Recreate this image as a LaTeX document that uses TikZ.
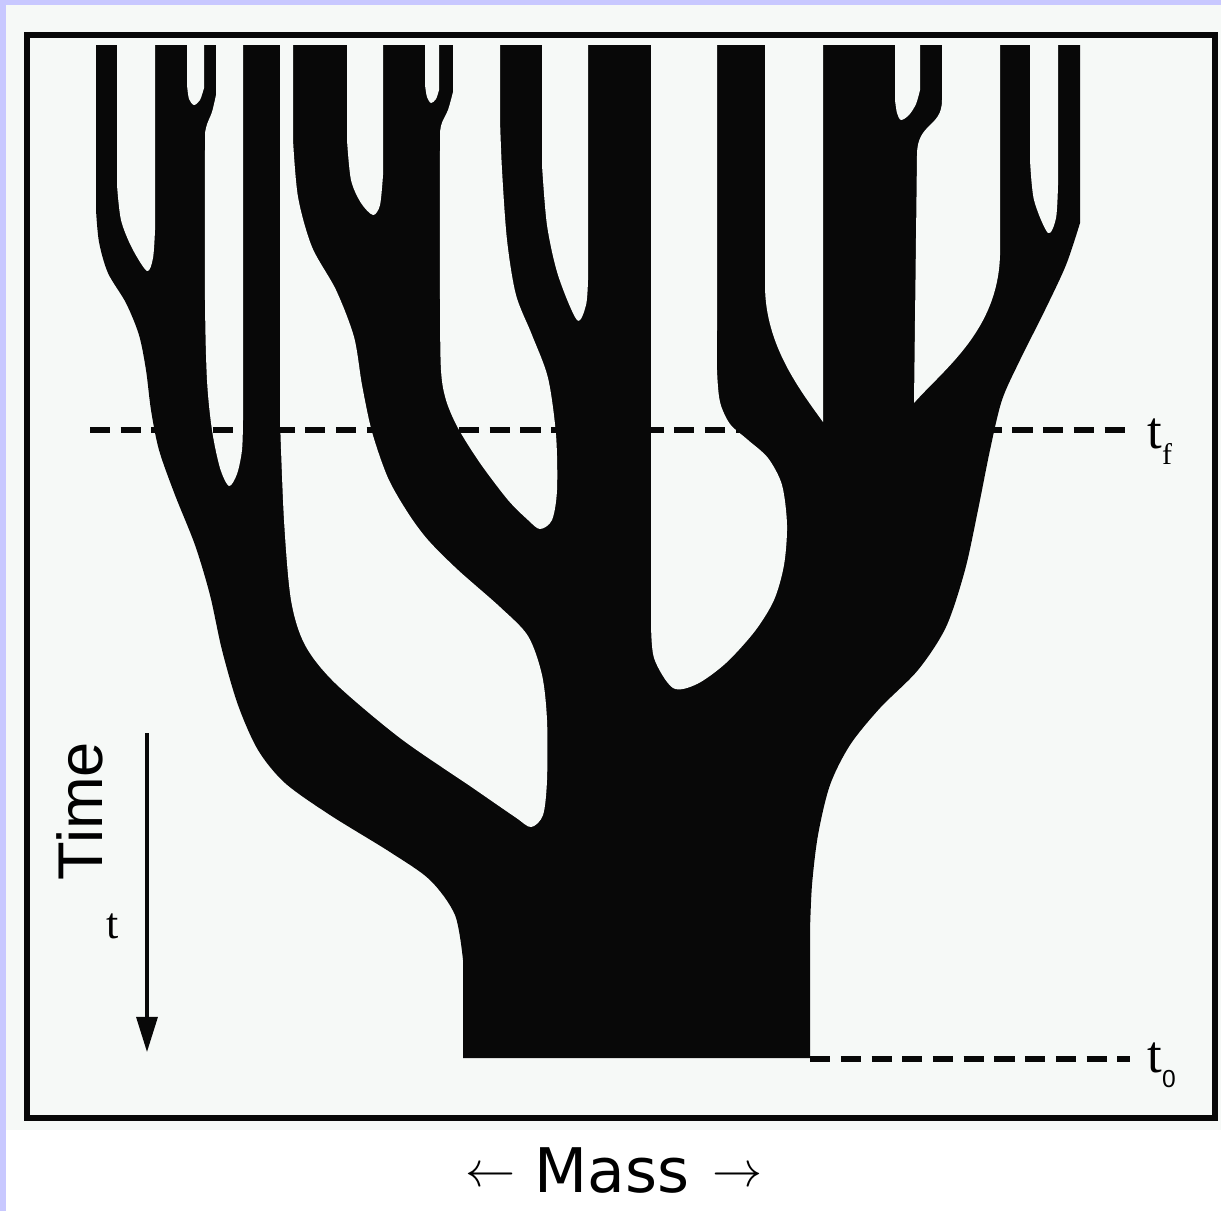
\documentclass[tikz,border=0pt]{standalone}
\usepackage{fontspec}
\setmainfont{Liberation Serif}
\newfontfamily\helv{Liberation Sans}
\newfontfamily\dejav{DejaVu Sans}
\usetikzlibrary{arrows.meta}
\definecolor{scanbg}{RGB}{246,249,247}
\definecolor{lav}{RGB}{200,200,255}
\definecolor{ink}{RGB}{8,8,8}
\tikzset{
  holefill/.style={fill=scanbg},
  inkfill/.style={fill=ink},
  tline/.style={line width=3.1pt, dash pattern=on 11.5pt off 6pt, draw=ink},
}
\newcommand{\massarrow}[1]{\raisebox{3.2pt}{\fontsize{10}{12}\selectfont\scalebox{2.85}{$#1$}}}
\begin{document}
\begin{tikzpicture}[x=0.02cm,y=-0.02cm]
\useasboundingbox (0,0) rectangle (1221,1211);
\fill[white] (0,0) rectangle (1221,1211);
\fill[scanbg] (6,5) rectangle (1221,1130);
\fill[lav] (0,0) rectangle (1221,5);
\fill[lav] (0,0) rectangle (6,1211);
\draw[line width=3.4pt, draw=ink] (27,35) rectangle (1215,1118);

% tree silhouette
\fill[inkfill] (96,45) -- (1080,45) -- plot[smooth, tension=0.5] coordinates {(1080,223) (1066,265) (1045,310) (1020,360) (1002,400) (990,450) (978,510) (965,570) (946,627) (918,670) (880,708) (850,745) (830,785) (818,835) (812,885) (810,930)} -- (810,1058) -- (463,1058) -- plot[smooth, tension=0.5] coordinates {(463,960) (455,915) (430,880) (390,852) (330,815) (285,783) (258,750) (238,705) (222,650) (210,595) (195,545) (175,495) (159,450) (151,410) (146,370) (139,335) (126,303) (108,273) (99,242) (96,210)} -- cycle;

% gaps between branches
\fill[holefill] (117,44) -- plot[smooth, tension=0.5] coordinates {(117,185) (121,220) (132,248) (147,271) (153,258) (155,230)} -- (155,44) -- cycle;
\fill[holefill] (187,44) -- plot[smooth, tension=0.5] coordinates {(187,85) (189,99) (194,105) (200,100) (204,88)} -- (204,44) -- cycle;
\fill[holefill] (216,44) -- plot[smooth, tension=0.5] coordinates {(216,95) (212,112) (206,128) (205,150) (205,300) (207,380) (212,430) (220,468) (229,486) (237,474) (242,450) (243,420)} -- (243,44) -- cycle;
\fill[holefill] (280,44) -- plot[smooth, tension=0.5] coordinates {(280,420) (284,520) (291,600) (305,645) (335,683) (400,738) (470,786) (515,817) (531,827) (543,815) (547,780) (547,720) (542,675) (528,636) (500,607) (458,570) (428,540) (408,513) (388,478) (372,432) (362,385) (354,337) (336,290) (312,247) (298,197) (293,140)} -- (293,44) -- cycle;
\fill[holefill] (347,44) -- plot[smooth, tension=0.5] coordinates {(347,140) (351,180) (361,203) (373,215) (380,205) (383,175)} -- (383,44) -- cycle;
\fill[holefill] (425,44) -- plot[smooth, tension=0.5] coordinates {(425,85) (427,97) (431,103) (436,99) (439,90)} -- (439,44) -- cycle;
\fill[holefill] (453,44) -- plot[smooth, tension=0.5] coordinates {(453,92) (448,110) (441,126) (440,150) (440,300) (441,370) (446,400) (458,428) (480,463) (508,500) (528,520) (540,529) (552,520) (557,490) (556,435) (548,378) (532,335) (516,295) (507,240) (502,170) (500,120)} -- (500,44) -- cycle;
\fill[holefill] (542,44) -- plot[smooth, tension=0.5] coordinates {(542,165) (547,225) (558,275) (577,320) (586,305) (588,280)} -- (588,44) -- cycle;
\fill[holefill] (651,44) -- plot[smooth, tension=0.5] coordinates {(651,620) (654,658) (673,688) (697,684) (726,663) (755,631) (774,600) (784,565) (787,525) (782,485) (768,458) (748,440) (730,424) (720,402) (717,370) (717,330)} -- (717,44) -- cycle;
\fill[holefill] (765,44) -- (765,285) .. controls (765,345) and (800,390) .. (823,422) -- (823,44) -- cycle;
\fill[holefill] (895,44) -- plot[smooth, tension=0.5] coordinates {(895,100) (897,113) (901,120) (909,115) (916,104) (920,90)} -- (920,44) -- cycle;
\fill[holefill] (942,44) -- (942,100) .. controls (942,128) and (917,122) .. (917,155) -- (914,403) .. controls (945,368) and (998,330) .. (1000,255) -- (1000,44) -- cycle;
\fill[holefill] (1030,44) -- plot[smooth, tension=0.5] coordinates {(1030,160) (1034,200) (1048,233) (1056,218) (1058,185)} -- (1058,44) -- cycle;

% time lines
\coordinate (tfL) at (90,430);
\coordinate (tfR) at (1130,430);
\draw[tline] (tfL) -- (tfR);
\coordinate (tzL) at (810,1059);
\coordinate (tzR) at (1130,1059);
\draw[tline] (tzL) -- (tzR);
\node[anchor=base west, inner sep=0] (tf) at (1147,448) {\fontsize{30}{30}\selectfont t\raisebox{-9.6pt}{\fontsize{17}{17}\selectfont f}};
\node[anchor=base west, inner sep=0] (tz) at (1147,1072) {\fontsize{30}{30}\selectfont t\raisebox{-9pt}{\helv\fontsize{14}{14}\selectfont 0}};

% time arrow
\coordinate (arTop) at (147,733);
\coordinate (arTip) at (147,1052);
\draw[line width=1.8pt, draw=ink, -{Triangle[length=20pt,width=12pt]}] (arTop) -- (arTip);
\node[font=\helv\fontsize{36}{36}\selectfont, rotate=90, inner sep=0] (time) at (80,811) {Time};
\node[font=\fontsize{25}{25}\selectfont, anchor=base, inner sep=0] (tlab) at (113,938) {t};

% mass label
\node[font=\dejav\fontsize{35}{35}\selectfont, anchor=base, inner sep=0] (mass) at (614,1192) {\massarrow{\leftarrow}\hspace{11pt}Mass\hspace{13pt}\massarrow{\rightarrow}};
\end{tikzpicture}
\end{document}
